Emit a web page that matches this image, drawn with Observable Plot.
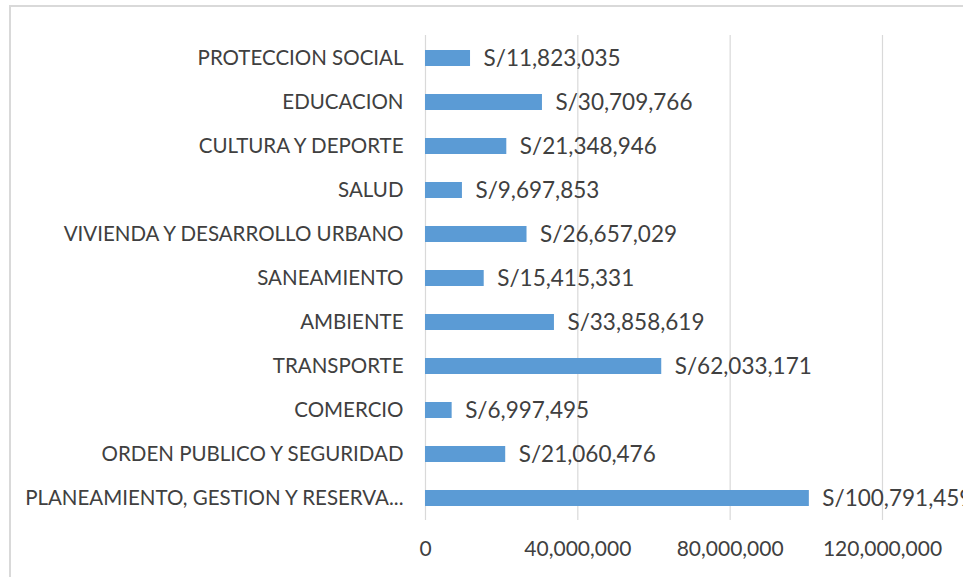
<!DOCTYPE html>
<html>
<head>
<meta charset="utf-8">
<script src="https://cdn.jsdelivr.net/npm/d3@7"></script>
<script src="https://cdn.jsdelivr.net/npm/@observablehq/plot@0.6"></script>
<style>
  html, body { margin: 0; padding: 0; background: #fff; }
  #wrap { position: relative; width: 963px; height: 577px; overflow: hidden; }
  #frame { position: absolute; left: 9px; top: 5px; right: -5px; bottom: -5px;
           border-top: 2px solid #d9d9d9; border-left: 2px solid #d9d9d9; pointer-events: none; }
  #chart { position: absolute; left: 0; top: 0; }
</style>
</head>
<body>
<div id="wrap"><div id="chart"></div><div id="frame"></div></div>
<script>
const categories = [
  "PROTECCION SOCIAL",
  "EDUCACION",
  "CULTURA Y DEPORTE",
  "SALUD",
  "VIVIENDA Y DESARROLLO URBANO",
  "SANEAMIENTO",
  "AMBIENTE",
  "TRANSPORTE",
  "COMERCIO",
  "ORDEN PUBLICO Y SEGURIDAD",
  "PLANEAMIENTO, GESTION Y RESERVA..."
];
const values = [11823035, 30709766, 21348946, 9697853, 26657029, 15415331, 33858619, 62033171, 6997495, 21060476, 100791459];
const xTicks = [0, 40000000, 80000000, 120000000];

const data = categories.map((c, i) => ({category: c, value: values[i]}));
const fmt = d3.format(",");

const chart = Plot.plot({
  width: 963,
  height: 577,
  marginLeft: 425,
  marginRight: 81,
  marginTop: 35,
  marginBottom: 57,
  style: {fontFamily: "Lato, 'Liberation Sans', sans-serif", color: "#404040", overflow: "hidden", background: "transparent"},
  x: {domain: [0, 120000000]},
  y: {domain: categories, paddingInner: 0.64, paddingOuter: 0.32},
  marks: [
    Plot.gridX(xTicks, {stroke: "#d9d9d9", strokeOpacity: 1, strokeWidth: 1.2}),
    Plot.barX(data, {x: "value", y: "category", fill: "#5b9bd5"}),
    Plot.text(data, {x: "value", y: "category", text: d => "S/" + fmt(d.value), textAnchor: "start", dx: 13, fontSize: 22.5, fill: "#404040"}),
    Plot.axisY({tickSize: 0, tickPadding: 22, fontSize: 20.5, label: null}),
    Plot.axisX(xTicks, {tickSize: 0, tickPadding: 21, fontSize: 21, label: null, tickFormat: d => fmt(d)})
  ]
});
document.getElementById("chart").appendChild(chart);
</script>
</body>
</html>
